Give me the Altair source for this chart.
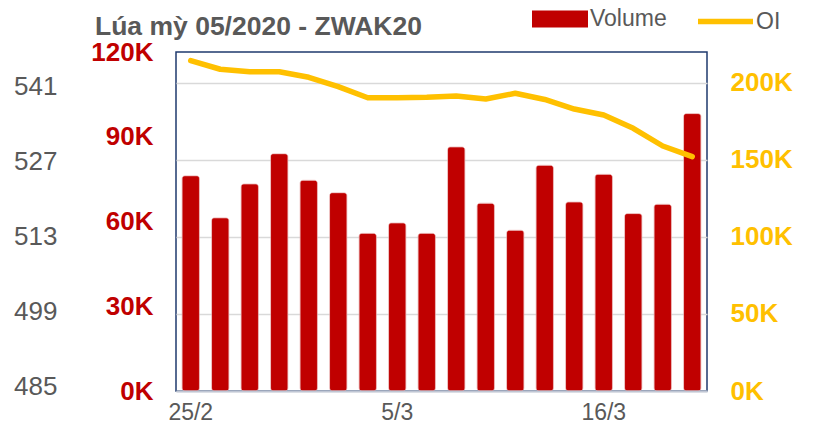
import altair as alt
import pandas as pd

dates = ["25/2", "26/2", "27/2", "28/2", "2/3", "3/3", "4/3", "5/3", "6/3",
         "9/3", "10/3", "11/3", "12/3", "13/3", "16/3", "17/3", "18/3", "19/3"]
volume = [76200, 61300, 73300, 84000, 74600, 70200, 55800, 59500, 55800,
          86400, 66500, 56900, 79900, 66900, 76700, 62800, 66100, 98200]
oi = [214400, 208800, 207200, 207200, 203600, 197500, 190300, 190300, 190600,
      191400, 189500, 193200, 189200, 183000, 179100, 170500, 159000, 152100]
price_ticks = [485, 499, 513, 527, 541]
shown_dates = ["25/2", "5/3", "16/3"]

df = pd.DataFrame({"date": dates, "volume": volume, "oi": oi,
                   "s_vol": ["Volume"] * len(dates), "s_oi": ["OI"] * len(dates)})
price_df = pd.DataFrame({"price": price_ticks})

FONT = "Liberation Sans"
GRAY = "#595959"

x_enc = alt.X("date:N", sort=dates, title=None,
              scale=alt.Scale(paddingInner=0.41, paddingOuter=0.205),
              axis=alt.Axis(values=shown_dates, labelAngle=0, labelFontSize=23,
                            labelColor=GRAY, labelFont=FONT, ticks=False,
                            labelPadding=10, domainColor="#BFC6D4", domainWidth=2,
                            zindex=1))

bars = alt.Chart(df).mark_bar(cornerRadius=3, stroke="#E8A7A7", strokeWidth=0.8,
                              strokeOpacity=0.7).encode(
    x=x_enc,
    y=alt.Y("volume:Q", title=None,
            scale=alt.Scale(domain=[0, 120000], nice=False),
            axis=alt.Axis(orient="left", values=[0, 30000, 60000, 90000, 120000],
                          labelExpr="datum.value/1000 + 'K'", labelFontSize=26,
                          labelFontWeight="bold", labelColor="#C00000", labelFont=FONT,
                          ticks=False, tickSize=0, domain=False, grid=False,
                          labelPadding=23)),
    color=alt.Color("s_vol:N", title=None,
                    scale=alt.Scale(domain=["Volume"], range=["#C00000"]),
                    legend=alt.Legend(orient="none", legendX=356, legendY=-61,
                                      symbolType="M-1,-0.3L1,-0.3L1,0.3L-1,0.3Z",
                                      symbolSize=3136, symbolStrokeWidth=0,
                                      labelFontSize=23, labelColor=GRAY, labelFont=FONT,
                                      labelOffset=2, padding=0)),
)

line = alt.Chart(df).mark_line(strokeWidth=5.5, strokeCap="round",
                               strokeJoin="round").encode(
    x=alt.X("date:N", sort=dates),
    y=alt.Y("oi:Q", title=None,
            scale=alt.Scale(domain=[0, 220000], nice=False),
            axis=alt.Axis(orient="right", values=[0, 50000, 100000, 150000, 200000],
                          labelExpr="datum.value/1000 + 'K'", labelFontSize=26,
                          labelFontWeight="bold", labelColor="#FFC000", labelFont=FONT,
                          ticks=False, tickSize=0, domain=False, grid=True,
                          gridColor="#D9D9D9", gridWidth=1.5, labelPadding=23)),
    stroke=alt.Stroke("s_oi:N", title=None,
                      scale=alt.Scale(domain=["OI"], range=["#FFC000"]),
                      legend=alt.Legend(orient="none", legendX=519, legendY=-61,
                                        symbolType="stroke", symbolSize=3025,
                                        symbolStrokeWidth=5.5,
                                        labelFontSize=23, labelColor=GRAY, labelFont=FONT,
                                        labelOffset=0, padding=0)),
)

price_axis = alt.Chart(price_df).mark_point(opacity=0).encode(
    y=alt.Y("price:Q", title=None,
            scale=alt.Scale(domain=[484.25, 547.53], nice=False, zero=False),
            axis=alt.Axis(orient="left", values=price_ticks, labelFontSize=26,
                          labelColor=GRAY, labelFont=FONT, ticks=False, tickSize=0,
                          domain=False, grid=False, offset=117, labelPadding=2)),
)

chart = alt.layer(bars, line, price_axis).resolve_scale(
    y="independent", color="independent", stroke="independent"
).properties(
    width=531, height=339,
    padding={"left": 168, "top": 44, "right": 90, "bottom": 34},
    autosize=alt.AutoSizeParams(type="none"),
    title=alt.TitleParams("Lúa mỳ 05/2020 - ZWAK20", anchor="start", frame="group",
                          dx=-81, dy=52, offset=3, fontSize=26.5, font=FONT,
                          fontWeight="bold", color=GRAY),
).configure_view(stroke="#1F3A6E", strokeWidth=1.5)

chart.save("out.html", embed_options={"renderer": "svg", "actions": False})
